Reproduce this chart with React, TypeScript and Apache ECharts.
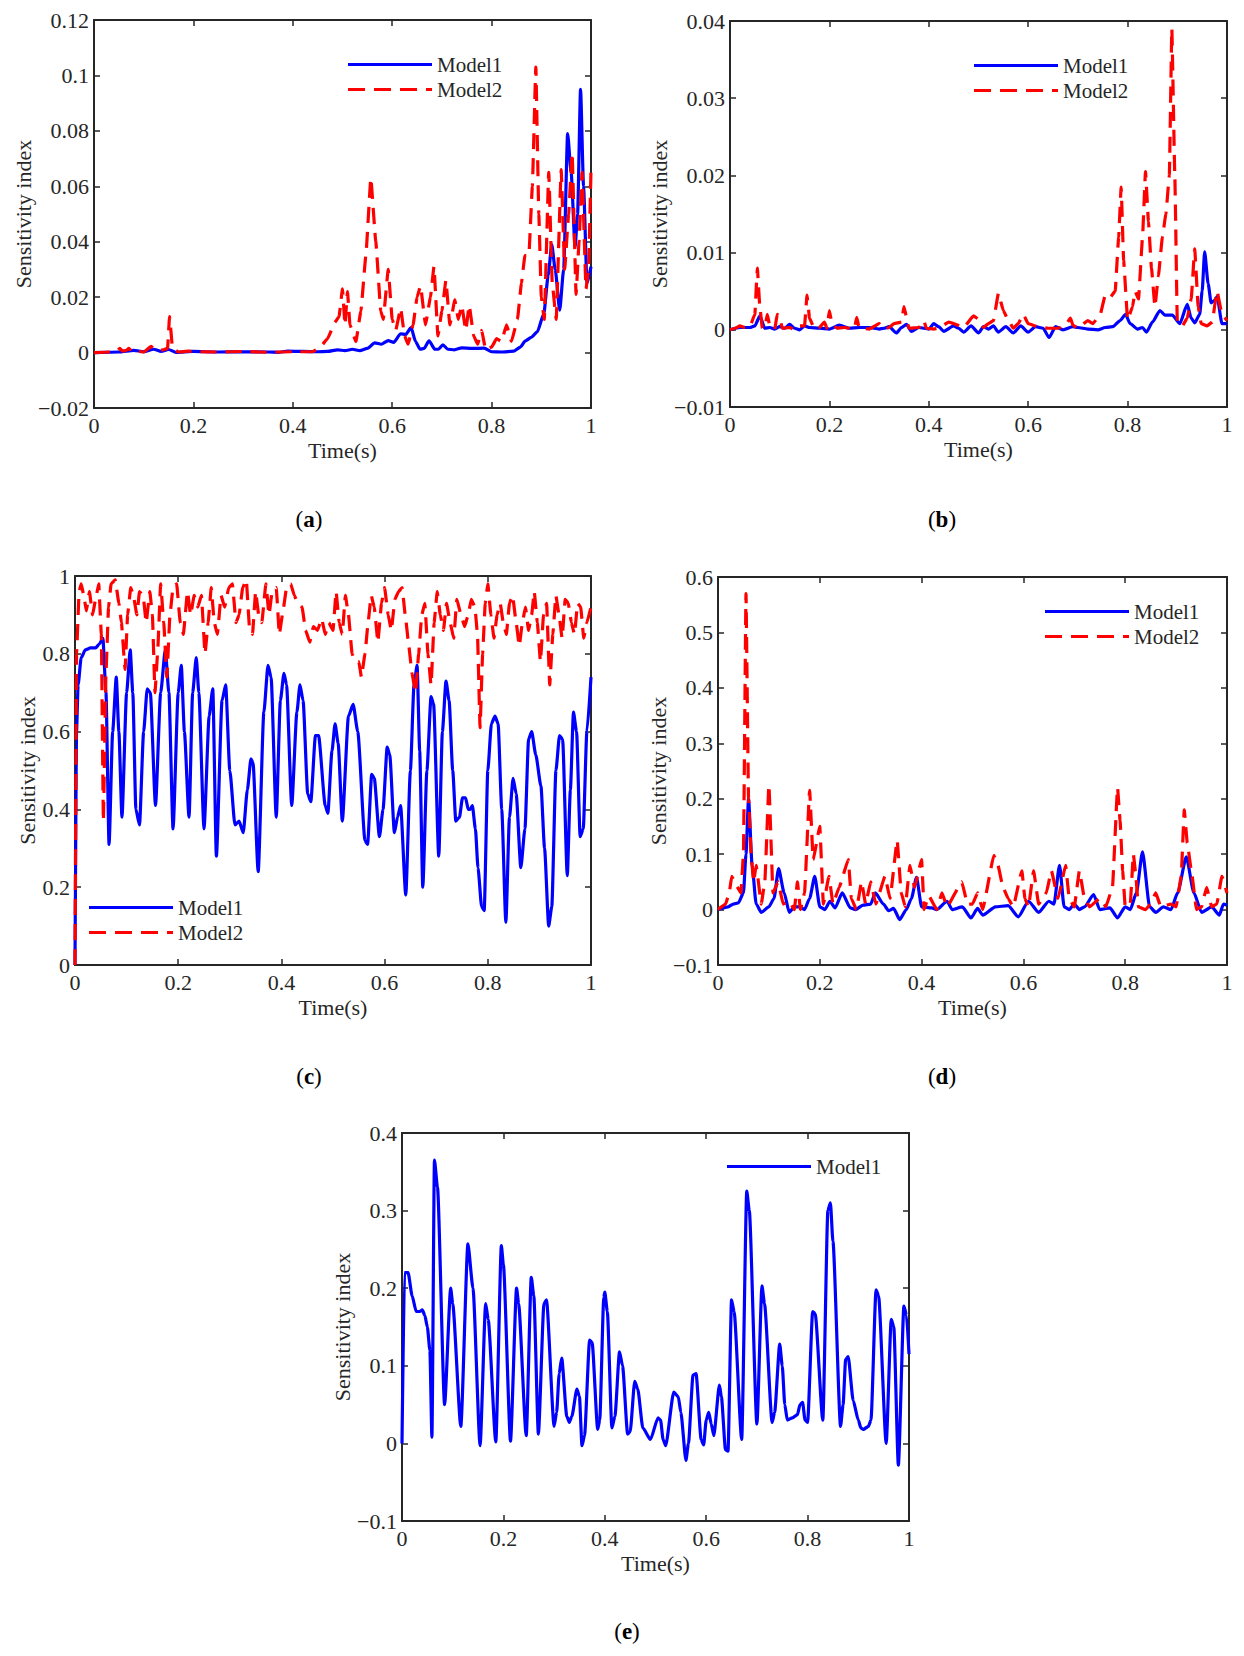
import React, { useEffect, useRef } from "react";
import * as echarts from "echarts";

type Pt = [number, number];

const FONT = "'Liberation Serif', 'Times New Roman', serif";
const AXIS_COLOR = "#262626";
const BLUE = "#0000ff";
const RED = "#ff0000";

// ---------- (a) ----------
const aModel1: Pt[] = [[0,0],[0.05,0.0002],[0.08,0.0008],[0.1,0.0003],[0.12,0.0012],[0.135,0.0004],[0.15,0.0011],[0.165,0.0001],[0.2,0.0004],[0.25,0.0002],[0.3,0.0003],[0.35,0.0002],[0.37,0.0001],[0.39,0.0005],[0.42,0.0004],[0.45,0.0003],[0.47,0.0004],[0.49,0.001],[0.505,0.0007],[0.52,0.0012],[0.535,0.0007],[0.55,0.0015],[0.565,0.0035],[0.578,0.003],[0.592,0.0043],[0.603,0.0037],[0.617,0.0068],[0.627,0.0065],[0.638,0.009],[0.647,0.004],[0.656,0.0012],[0.664,0.0015],[0.674,0.0042],[0.686,0.0012],[0.693,0.0012],[0.702,0.0028],[0.712,0.0012],[0.725,0.001],[0.74,0.0017],[0.76,0.0015],[0.785,0.0016],[0.8,0.0003],[0.82,0.0002],[0.845,0.0005],[0.858,0.002],[0.868,0.0042],[0.88,0.0055],[0.892,0.0075],[0.905,0.014],[0.914,0.028],[0.921,0.039],[0.928,0.03],[0.937,0.0153],[0.945,0.03],[0.953,0.079],[0.96,0.065],[0.968,0.038],[0.973,0.05],[0.979,0.095],[0.985,0.06],[0.992,0.025],[1,0.031]];
const aModel2: Pt[] = [[0,0],[0.03,0.0002],[0.045,0.0003],[0.052,0.0015],[0.058,0.0005],[0.065,0.0008],[0.07,0.0015],[0.078,0.0001],[0.09,0.0004],[0.1,0.0002],[0.115,0.0022],[0.125,0.0008],[0.14,0.001],[0.148,0.0015],[0.152,0.013],[0.158,0.0015],[0.17,0.0002],[0.19,0.0005],[0.21,0.0003],[0.25,0.0002],[0.3,0.0004],[0.35,0.0001],[0.4,0.0003],[0.44,0.0003],[0.455,0.002],[0.47,0.005],[0.485,0.011],[0.493,0.013],[0.5,0.023],[0.505,0.01],[0.51,0.022],[0.515,0.01],[0.527,0.004],[0.537,0.015],[0.547,0.035],[0.557,0.063],[0.567,0.04],[0.577,0.015],[0.582,0.012],[0.592,0.03],[0.6,0.012],[0.607,0.008],[0.617,0.016],[0.625,0.006],[0.632,0.003],[0.642,0.01],[0.65,0.02],[0.657,0.024],[0.667,0.01],[0.677,0.02],[0.684,0.031],[0.692,0.006],[0.7,0.015],[0.708,0.026],[0.716,0.01],[0.726,0.019],[0.733,0.012],[0.74,0.017],[0.748,0.008],[0.755,0.017],[0.764,0.006],[0.772,0.003],[0.78,0.008],[0.788,0.001],[0.8,0.002],[0.81,0.005],[0.82,0.004],[0.83,0.01],[0.84,0.004],[0.852,0.012],[0.86,0.025],[0.867,0.035],[0.875,0.035],[0.882,0.06],[0.889,0.103],[0.895,0.05],[0.9,0.02],[0.906,0.012],[0.915,0.065],[0.922,0.025],[0.93,0.012],[0.94,0.066],[0.947,0.03],[0.955,0.05],[0.962,0.072],[0.97,0.021],[0.976,0.04],[0.982,0.065],[0.99,0.023],[0.995,0.03],[1,0.066]];

// ---------- (b) ----------
const bModel1: Pt[] = [[0,0],[0.02,0.0003],[0.04,0.0003],[0.05,0.0005],[0.06,0.0018],[0.07,0.0002],[0.08,0.0003],[0.09,0.0001],[0.1,0.0004],[0.11,0.0002],[0.12,0.0007],[0.13,0.0002],[0.14,0],[0.15,0.0005],[0.16,0.0003],[0.18,0.0002],[0.2,0.0001],[0.22,0.0006],[0.24,0.0002],[0.26,0.0003],[0.28,0.0003],[0.3,0.0001],[0.31,0.0002],[0.32,0.0004],[0.335,-0.0004],[0.345,0.0003],[0.355,0.0007],[0.365,-0.0002],[0.38,0.0003],[0.4,0.0001],[0.41,0.0008],[0.42,0.0004],[0.43,-0.0002],[0.45,0.0005],[0.46,0.0002],[0.47,-0.0003],[0.485,0.0005],[0.5,-0.0004],[0.51,0.0004],[0.52,0.0001],[0.53,0.0005],[0.54,-0.0003],[0.555,0.0004],[0.57,-0.0004],[0.585,0.0005],[0.6,-0.0003],[0.615,0.0004],[0.63,0.0002],[0.642,-0.001],[0.655,0.0004],[0.67,0],[0.69,0.0004],[0.7,0.0003],[0.72,0.0001],[0.74,0],[0.755,0.0003],[0.77,0.0004],[0.785,0.0012],[0.796,0.002],[0.805,0.0008],[0.82,0.0001],[0.83,0.0003],[0.838,-0.0003],[0.85,0.001],[0.865,0.0025],[0.875,0.0019],[0.89,0.0019],[0.905,0.0008],[0.92,0.0033],[0.928,0.0015],[0.935,0.0009],[0.945,0.002],[0.95,0.005],[0.955,0.0101],[0.962,0.006],[0.968,0.0035],[0.975,0.0038],[0.98,0.0043],[0.99,0.0008],[1,0.0008]];
const bModel2: Pt[] = [[0,0],[0.01,0.0002],[0.02,0.0005],[0.03,0.0003],[0.04,0.0004],[0.05,0.002],[0.055,0.008],[0.06,0.003],[0.065,0.0002],[0.07,0.0003],[0.075,0.002],[0.08,0.0005],[0.09,0.0001],[0.095,0.002],[0.1,0.0018],[0.105,0.0002],[0.12,0.0003],[0.13,0],[0.14,0.0005],[0.15,0.0005],[0.155,0.0045],[0.16,0.0015],[0.17,0.0001],[0.18,0.0003],[0.19,0.001],[0.195,0.0002],[0.2,0.0025],[0.205,0.0008],[0.215,0.0002],[0.23,0.0003],[0.25,0.0001],[0.255,0.0016],[0.26,0.0002],[0.28,0.0001],[0.3,0.0008],[0.31,0.0001],[0.32,0.0003],[0.33,0.0008],[0.345,0.001],[0.35,0.003],[0.36,0.0002],[0.38,0.0003],[0.39,0.0012],[0.395,0.0002],[0.41,0.0001],[0.42,0.0002],[0.44,0.001],[0.45,0.0008],[0.47,0.0003],[0.49,0.0018],[0.5,0.0014],[0.51,0.0003],[0.52,0.0008],[0.53,0.0012],[0.54,0.0047],[0.55,0.0025],[0.56,0.0012],[0.57,0.0002],[0.58,0.0008],[0.59,0.002],[0.6,0.0008],[0.62,0.0004],[0.64,0.0002],[0.66,0.0002],[0.675,0.0006],[0.685,0.0015],[0.69,0.0006],[0.7,0.0002],[0.72,0.0012],[0.73,0.0008],[0.745,0.002],[0.755,0.0045],[0.765,0.0042],[0.775,0.005],[0.782,0.012],[0.787,0.0185],[0.792,0.009],[0.8,0.0013],[0.81,0.003],[0.815,0.005],[0.822,0.004],[0.83,0.012],[0.836,0.0205],[0.842,0.014],[0.848,0.008],[0.855,0.003],[0.862,0.007],[0.87,0.012],[0.877,0.015],[0.884,0.02],[0.889,0.039],[0.895,0.02],[0.9,0.001],[0.91,0.0005],[0.92,0.0015],[0.928,0.004],[0.935,0.0105],[0.942,0.003],[0.948,0.0008],[0.96,0.0005],[0.97,0.001],[0.98,0.005],[0.99,0.002],[1,0.0012]];

// ---------- (c) ----------
const cModel1: Pt[] = [[0,0],[0.003,0.6],[0.006,0.72],[0.012,0.79],[0.02,0.81],[0.03,0.815],[0.04,0.815],[0.047,0.825],[0.054,0.84],[0.06,0.7],[0.066,0.31],[0.073,0.6],[0.08,0.74],[0.085,0.6],[0.091,0.38],[0.1,0.7],[0.107,0.81],[0.112,0.7],[0.118,0.4],[0.125,0.36],[0.133,0.6],[0.14,0.71],[0.146,0.7],[0.156,0.41],[0.166,0.7],[0.175,0.81],[0.182,0.7],[0.19,0.35],[0.2,0.7],[0.206,0.77],[0.212,0.6],[0.221,0.38],[0.228,0.7],[0.235,0.79],[0.24,0.7],[0.25,0.35],[0.26,0.64],[0.267,0.71],[0.274,0.28],[0.285,0.68],[0.292,0.72],[0.3,0.5],[0.31,0.36],[0.318,0.37],[0.326,0.34],[0.334,0.45],[0.341,0.53],[0.345,0.52],[0.355,0.24],[0.366,0.65],[0.374,0.77],[0.38,0.74],[0.39,0.38],[0.398,0.68],[0.405,0.75],[0.41,0.72],[0.42,0.41],[0.43,0.65],[0.436,0.72],[0.442,0.68],[0.451,0.44],[0.457,0.42],[0.466,0.59],[0.472,0.59],[0.485,0.41],[0.49,0.39],[0.498,0.55],[0.504,0.62],[0.51,0.57],[0.518,0.37],[0.53,0.64],[0.539,0.67],[0.548,0.6],[0.562,0.32],[0.567,0.31],[0.575,0.49],[0.58,0.48],[0.59,0.33],[0.597,0.4],[0.605,0.56],[0.61,0.54],[0.619,0.34],[0.625,0.38],[0.631,0.41],[0.641,0.18],[0.65,0.5],[0.657,0.72],[0.663,0.77],[0.668,0.55],[0.674,0.2],[0.682,0.5],[0.69,0.69],[0.695,0.67],[0.705,0.28],[0.712,0.6],[0.719,0.73],[0.725,0.68],[0.732,0.5],[0.738,0.37],[0.745,0.38],[0.751,0.43],[0.757,0.43],[0.762,0.4],[0.766,0.4],[0.77,0.41],[0.776,0.35],[0.781,0.25],[0.788,0.15],[0.793,0.14],[0.8,0.5],[0.807,0.62],[0.814,0.64],[0.82,0.62],[0.827,0.4],[0.835,0.11],[0.842,0.38],[0.849,0.48],[0.855,0.44],[0.864,0.25],[0.872,0.35],[0.879,0.58],[0.885,0.6],[0.893,0.54],[0.903,0.46],[0.91,0.3],[0.918,0.1],[0.924,0.15],[0.932,0.5],[0.939,0.59],[0.945,0.58],[0.954,0.23],[0.96,0.45],[0.966,0.65],[0.972,0.6],[0.979,0.33],[0.985,0.35],[0.992,0.6],[1,0.74]];
const cModel2: Pt[] = [[0,0],[0.003,0.8],[0.008,0.96],[0.012,0.98],[0.017,0.95],[0.022,0.91],[0.028,0.96],[0.034,0.9],[0.04,0.94],[0.046,0.98],[0.051,0.85],[0.055,0.37],[0.06,0.75],[0.065,0.92],[0.07,0.98],[0.078,0.99],[0.085,0.93],[0.09,0.88],[0.097,0.76],[0.102,0.9],[0.108,0.97],[0.113,0.95],[0.12,0.9],[0.125,0.96],[0.132,0.95],[0.138,0.88],[0.145,0.96],[0.15,0.9],[0.155,0.7],[0.16,0.8],[0.166,0.98],[0.172,0.88],[0.178,0.74],[0.184,0.9],[0.19,0.97],[0.197,0.98],[0.204,0.88],[0.21,0.85],[0.218,0.96],[0.224,0.9],[0.231,0.95],[0.238,0.92],[0.245,0.95],[0.252,0.8],[0.258,0.88],[0.264,0.97],[0.27,0.88],[0.276,0.85],[0.283,0.95],[0.29,0.92],[0.298,0.97],[0.305,0.98],[0.312,0.88],[0.318,0.9],[0.325,0.97],[0.332,0.99],[0.338,0.87],[0.344,0.85],[0.35,0.96],[0.356,0.9],[0.362,0.88],[0.37,0.98],[0.376,0.9],[0.382,0.96],[0.39,0.97],[0.396,0.85],[0.402,0.9],[0.41,0.97],[0.418,0.98],[0.425,0.95],[0.432,0.93],[0.44,0.92],[0.447,0.86],[0.455,0.83],[0.462,0.87],[0.47,0.86],[0.478,0.89],[0.485,0.85],[0.492,0.88],[0.5,0.86],[0.506,0.96],[0.512,0.88],[0.518,0.85],[0.524,0.95],[0.53,0.9],[0.537,0.8],[0.543,0.78],[0.55,0.78],[0.555,0.74],[0.562,0.8],[0.568,0.88],[0.574,0.95],[0.58,0.92],[0.587,0.83],[0.594,0.93],[0.6,0.97],[0.607,0.9],[0.613,0.86],[0.62,0.94],[0.627,0.96],[0.634,0.97],[0.64,0.9],[0.647,0.82],[0.653,0.75],[0.66,0.7],[0.666,0.8],[0.672,0.9],[0.678,0.93],[0.684,0.8],[0.69,0.72],[0.696,0.88],[0.702,0.96],[0.708,0.9],[0.714,0.86],[0.72,0.93],[0.727,0.88],[0.734,0.84],[0.74,0.94],[0.748,0.9],[0.755,0.87],[0.762,0.9],[0.768,0.94],[0.775,0.92],[0.78,0.85],[0.785,0.61],[0.79,0.8],[0.795,0.93],[0.8,0.98],[0.806,0.9],[0.812,0.84],[0.818,0.9],[0.824,0.93],[0.83,0.88],[0.836,0.85],[0.842,0.93],[0.848,0.95],[0.855,0.88],[0.861,0.82],[0.867,0.88],[0.873,0.92],[0.879,0.86],[0.885,0.9],[0.89,0.96],[0.896,0.88],[0.902,0.78],[0.908,0.9],[0.914,0.93],[0.92,0.72],[0.926,0.85],[0.932,0.95],[0.938,0.9],[0.944,0.84],[0.95,0.94],[0.956,0.93],[0.962,0.88],[0.968,0.85],[0.974,0.93],[0.98,0.92],[0.986,0.84],[0.992,0.88],[1,0.92]];

// ---------- (d) ----------
const dModel1: Pt[] = [[0,0],[0.02,0.005],[0.03,0.01],[0.04,0.012],[0.05,0.03],[0.055,0.1],[0.06,0.2],[0.067,0.08],[0.075,0.01],[0.085,-0.005],[0.1,0.005],[0.11,0.02],[0.119,0.074],[0.13,0.03],[0.14,-0.005],[0.15,0.005],[0.16,0.005],[0.17,0],[0.18,0.02],[0.19,0.06],[0.2,0.005],[0.21,0],[0.22,0.015],[0.23,0.003],[0.244,0.03],[0.26,0.003],[0.27,0],[0.285,0.008],[0.3,0.01],[0.309,0.03],[0.325,0.01],[0.335,-0.002],[0.345,0.002],[0.357,-0.018],[0.37,0],[0.38,0.02],[0.39,0.058],[0.4,0.005],[0.42,0.003],[0.43,0],[0.45,0.015],[0.46,0],[0.48,0.005],[0.497,-0.015],[0.51,0.002],[0.52,-0.01],[0.545,0.005],[0.57,0.007],[0.59,-0.013],[0.61,0.015],[0.63,-0.005],[0.65,0.015],[0.66,0.01],[0.671,0.08],[0.68,0.005],[0.69,0],[0.7,0.01],[0.71,0],[0.72,0.005],[0.738,0.027],[0.75,0],[0.77,0.003],[0.785,-0.015],[0.8,0.005],[0.81,0],[0.822,0.03],[0.834,0.104],[0.848,0.005],[0.86,-0.005],[0.875,0.005],[0.89,0],[0.903,0.03],[0.92,0.095],[0.935,0.03],[0.95,-0.005],[0.97,0.005],[0.985,-0.01],[0.993,0.01],[1,0.008]];
const dModel2: Pt[] = [[0,0],[0.015,0.01],[0.022,0.03],[0.027,0.06],[0.035,0.045],[0.045,0.03],[0.05,0.1],[0.055,0.57],[0.06,0.2],[0.065,0.1],[0.07,0.05],[0.075,0.08],[0.085,0.01],[0.092,0.05],[0.1,0.225],[0.108,0.03],[0.118,0.05],[0.128,0.01],[0.14,0.015],[0.15,0],[0.156,0.05],[0.162,0],[0.17,0.03],[0.18,0.215],[0.187,0.09],[0.2,0.15],[0.207,0.01],[0.218,0.06],[0.226,0.01],[0.238,0.04],[0.256,0.09],[0.262,0.02],[0.272,0],[0.282,0.05],[0.29,0.01],[0.3,0.05],[0.31,0.01],[0.328,0.06],[0.338,0.02],[0.352,0.125],[0.36,0.03],[0.368,0.005],[0.377,0.08],[0.386,0.04],[0.4,0.09],[0.405,0],[0.414,0.025],[0.43,0],[0.44,0.03],[0.45,0.005],[0.479,0.05],[0.49,0.01],[0.5,0.01],[0.51,0.03],[0.52,0],[0.542,0.098],[0.55,0.08],[0.56,0.04],[0.57,0.02],[0.58,0.005],[0.597,0.07],[0.603,0.02],[0.61,0.005],[0.62,0.07],[0.63,0.01],[0.645,0.03],[0.655,0.07],[0.668,0.02],[0.683,0.08],[0.69,0.02],[0.7,0.005],[0.71,0.07],[0.72,0.02],[0.73,0.005],[0.75,0.02],[0.762,0.005],[0.775,0.04],[0.785,0.22],[0.79,0.16],[0.795,0.07],[0.8,0.005],[0.81,0.01],[0.816,0.1],[0.82,0.07],[0.826,0.005],[0.84,0],[0.85,0.01],[0.86,0.03],[0.87,0.005],[0.89,0.01],[0.9,0.005],[0.91,0.06],[0.916,0.18],[0.922,0.12],[0.93,0.07],[0.94,0],[0.95,0.005],[0.96,0.04],[0.97,0.005],[0.98,0.01],[0.99,0.06],[1,0.03]];

// ---------- (e) ----------
const eModel1: Pt[] = [[0,0],[0.005,0.22],[0.012,0.22],[0.02,0.19],[0.028,0.17],[0.035,0.17],[0.04,0.172],[0.045,0.165],[0.05,0.15],[0.055,0.12],[0.059,0.008],[0.064,0.365],[0.07,0.33],[0.084,0.05],[0.096,0.2],[0.1,0.18],[0.116,0.022],[0.13,0.257],[0.14,0.2],[0.154,-0.003],[0.165,0.18],[0.17,0.16],[0.185,0.002],[0.196,0.255],[0.2,0.23],[0.214,0.003],[0.226,0.2],[0.23,0.18],[0.245,0.01],[0.255,0.214],[0.26,0.19],[0.269,0.012],[0.28,0.18],[0.285,0.185],[0.3,0.022],[0.305,0.04],[0.31,0.09],[0.315,0.11],[0.325,0.035],[0.33,0.027],[0.335,0.035],[0.345,0.07],[0.35,0.06],[0.355,-0.003],[0.36,0.01],[0.37,0.133],[0.375,0.13],[0.386,0.018],[0.39,0.03],[0.398,0.188],[0.4,0.195],[0.405,0.17],[0.414,0.02],[0.42,0.035],[0.429,0.118],[0.435,0.1],[0.445,0.012],[0.45,0.015],[0.459,0.08],[0.465,0.07],[0.475,0.02],[0.49,0.005],[0.505,0.033],[0.51,0.03],[0.515,0.005],[0.52,-0.003],[0.536,0.066],[0.545,0.06],[0.55,0.04],[0.56,-0.022],[0.565,0],[0.574,0.088],[0.58,0.09],[0.59,0.005],[0.595,-0.002],[0.6,0.03],[0.605,0.04],[0.61,0.025],[0.615,0.01],[0.626,0.075],[0.63,0.06],[0.638,-0.008],[0.643,-0.01],[0.65,0.185],[0.655,0.17],[0.67,0.005],[0.68,0.325],[0.685,0.3],[0.7,0.025],[0.71,0.203],[0.715,0.18],[0.73,0.027],[0.735,0.04],[0.745,0.128],[0.75,0.1],[0.755,0.05],[0.76,0.03],[0.77,0.033],[0.78,0.037],[0.785,0.05],[0.79,0.053],[0.795,0.03],[0.8,0.027],[0.81,0.17],[0.815,0.167],[0.83,0.03],[0.84,0.3],[0.845,0.31],[0.85,0.26],[0.865,0.022],[0.87,0.05],[0.875,0.108],[0.88,0.112],[0.89,0.055],[0.9,0.03],[0.905,0.02],[0.91,0.018],[0.92,0.022],[0.925,0.03],[0.935,0.198],[0.94,0.19],[0.955,0],[0.965,0.16],[0.97,0.15],[0.979,-0.028],[0.99,0.177],[0.995,0.165],[1,0.115]];

// ---------- axes ----------
const xTicks = { min: 0, max: 1, interval: 0.2 };
const yRanges = [
  { min: -0.02, max: 0.12, interval: 0.02 },
  { min: -0.01, max: 0.04, interval: 0.01 },
  { min: 0, max: 1, interval: 0.2 },
  { min: -0.1, max: 0.6, interval: 0.1 },
  { min: -0.1, max: 0.4, interval: 0.1 },
];
const captions = ["a", "b", "c", "d", "e"];
const seriesSets: { m1: Pt[]; m2?: Pt[] }[] = [
  { m1: aModel1, m2: aModel2 },
  { m1: bModel1, m2: bModel2 },
  { m1: cModel1, m2: cModel2 },
  { m1: dModel1, m2: dModel2 },
  { m1: eModel1 },
];

// layout (px)
const grids = [
  { left: 94, top: 20, width: 497, height: 388 },
  { left: 730, top: 21, width: 497, height: 386 },
  { left: 75, top: 576, width: 516, height: 389 },
  { left: 718, top: 577, width: 509, height: 388 },
  { left: 402, top: 1133, width: 507, height: 388 },
];
const yNameGaps = [60, 60, 35, 48, 49];
const legendPos = [
  { left: 348, top: 54 },
  { left: 974, top: 55 },
  { left: 89, top: 897 },
  { left: 1045, top: 601 },
  { left: 727, top: 1156 },
];
const captionPos = [
  [309, 519],
  [942, 519],
  [309, 1076],
  [942, 1076],
  [627, 1631],
];

// legend glyphs: solid and dashed line icons
const SOLID_ICON = "path://M0,0H84V3H0Z";
const DASH_ICON = "path://M0,0H17V3H0Z M26,0H43V3H26Z M52,0H69V3H52Z M78,0H84V3H78Z";

function fmt(v: number): string {
  const r = Math.round(v * 10000) / 10000;
  if (r === 0) return "0";
  return r < 0 ? "\u2212" + String(-r) : String(r);
}

const textBase = { fontFamily: FONT, fontSize: 22, color: AXIS_COLOR };

function axisCommon(showLabel: boolean) {
  return {
    type: "value" as const,
    axisLine: { show: true, onZero: false, lineStyle: { color: AXIS_COLOR, width: 2 } },
    axisTick: { show: true, inside: true, length: 6, lineStyle: { color: AXIS_COLOR, width: 1.5 } },
    splitLine: { show: false },
    axisLabel: { show: showLabel, ...textBase, formatter: fmt },
  };
}

export default function App() {
  const ref = useRef<HTMLDivElement>(null);

  useEffect(() => {
    if (!ref.current) return;
    const chart = echarts.init(ref.current, undefined, { renderer: "svg" });

    const xAxis: any[] = [];
    const yAxis: any[] = [];
    const series: any[] = [];
    const legend: any[] = [];
    const graphic: any[] = [];

    grids.forEach((g, i) => {
      const bx = axisCommon(true);
      xAxis.push({
        ...bx,
        gridIndex: i,
        position: "bottom",
        ...xTicks,
        axisLabel: { ...bx.axisLabel, margin: 6 },
        name: "Time(s)",
        nameLocation: "middle",
        nameGap: 31,
        nameTextStyle: textBase,
      });
      const by = axisCommon(true);
      yAxis.push({
        ...by,
        gridIndex: i,
        position: "left",
        ...yRanges[i],
        axisLabel: { ...by.axisLabel, margin: 5 },
        name: "Sensitivity index",
        nameLocation: "middle",
        nameRotate: 90,
        nameGap: yNameGaps[i],
        nameTextStyle: textBase,
      });
    });
    grids.forEach((g, i) => {
      xAxis.push({ ...axisCommon(false), gridIndex: i, position: "top", ...xTicks });
      yAxis.push({ ...axisCommon(false), gridIndex: i, position: "right", ...yRanges[i] });
    });

    seriesSets.forEach((s, i) => {
      series.push({
        type: "line",
        name: "Model1",
        xAxisIndex: i,
        yAxisIndex: i,
        data: s.m1,
        symbol: "none",
        showSymbol: false,
        smooth: 0.2,
        smoothMonotone: "x",
        lineStyle: { color: BLUE, width: 3.2 },
        itemStyle: { color: BLUE },
        z: 2,
      });
      if (s.m2) {
        series.push({
          type: "line",
          name: "Model2",
          xAxisIndex: i,
          yAxisIndex: i,
          data: s.m2,
          symbol: "none",
          showSymbol: false,
          smooth: 0.1,
          smoothMonotone: "x",
          lineStyle: { color: RED, width: 3.2, type: [16, 9] },
          itemStyle: { color: RED },
          z: 3,
        });
      }
      const items: any[] = [{ name: "Model1", icon: SOLID_ICON }];
      if (s.m2) items.push({ name: "Model2", icon: DASH_ICON });
      legend.push({
        left: legendPos[i].left,
        top: legendPos[i].top,
        orient: "vertical",
        itemWidth: 84,
        itemHeight: 3,
        itemGap: 4,
        padding: 0,
        selectedMode: false,
        data: items,
        textStyle: { fontFamily: FONT, fontSize: 21, color: AXIS_COLOR },
      });
      graphic.push({
        type: "text",
        x: captionPos[i][0],
        y: captionPos[i][1],
        style: {
          text: "{p|(}{b|" + captions[i] + "}{p|)}",
          align: "center",
          verticalAlign: "middle",
          rich: {
            p: { fontFamily: FONT, fontSize: 23, color: "#000" },
            b: { fontFamily: FONT, fontSize: 23, fontWeight: "bold", color: "#000" },
          },
        },
      });
    });

    chart.setOption({
      animation: false,
      backgroundColor: "#ffffff",
      grid: grids.map((g) => ({ ...g, containLabel: false })),
      xAxis,
      yAxis,
      series,
      legend,
      graphic,
    });

    return () => chart.dispose();
  }, []);

  return (
    <div
      ref={ref}
      style={{ position: "absolute", left: 0, top: 0, width: 1244, height: 1656, background: "#fff" }}
    />
  );
}
